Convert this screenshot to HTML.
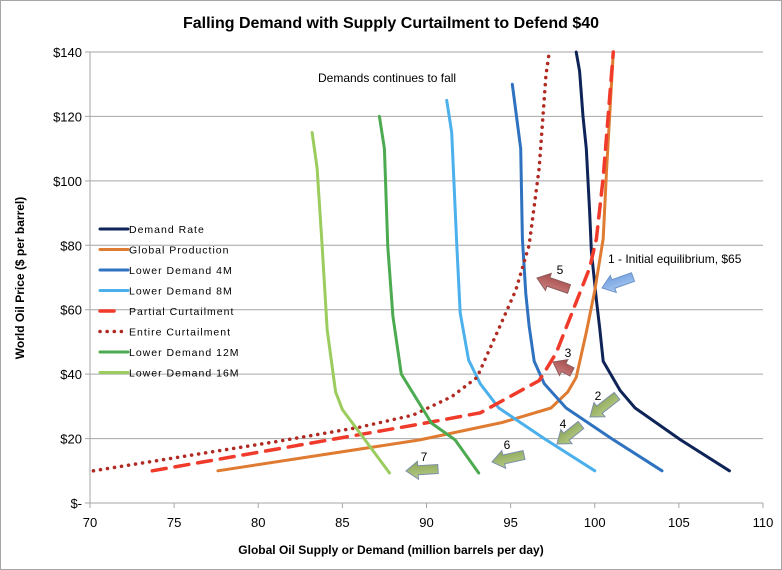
<!DOCTYPE html>
<html><head><meta charset="utf-8"><style>
body{margin:0;background:#fff}
svg{display:block;font-family:"Liberation Sans",sans-serif}
</style></head><body>
<svg id="chart" width="782" height="570">
<defs>
<linearGradient id="gBlue" x1="0" y1="0" x2="0" y2="1"><stop offset="0" stop-color="#a9c8f0"/><stop offset="1" stop-color="#6f9fe0"/></linearGradient>
<linearGradient id="gRed" x1="0" y1="0" x2="0" y2="1"><stop offset="0" stop-color="#c98080"/><stop offset="1" stop-color="#a84a4a"/></linearGradient>
<linearGradient id="gGreen" x1="0" y1="0" x2="0" y2="1"><stop offset="0" stop-color="#b8cc88"/><stop offset="1" stop-color="#8aa556"/></linearGradient>
</defs>
<rect x="0.5" y="0.5" width="781" height="569" fill="#fff" stroke="#a6a6a6"/>
<text x="391" y="28" text-anchor="middle" font-size="16" font-weight="bold">Falling Demand with Supply Curtailment to Defend $40</text>
<text x="391" y="554" text-anchor="middle" font-size="12" font-weight="bold">Global Oil Supply or Demand (million barrels per day)</text>
<text transform="translate(24,278) rotate(-90)" text-anchor="middle" font-size="12" font-weight="bold">World Oil Price  ($ per barrel)</text>
<g id="grid"></g><g id="series"></g><g id="ann"></g>
</svg>
<script>
const xTicks=[70,75,80,85,90,95,100,105,110];
const yTicks=[0,20,40,60,80,100,120,140];
const yTickLabels=["$-","$20","$40","$60","$80","$100","$120","$140"];
const demandX=[98.9,99.1,99.3,99.5,99.7,99.8,100.1,100.3,100.5,101.5,102.4,105.1,108.0];
const demandY=[140,134,120,110,90,78,63,54,44,35,29.5,19.6,10];
const prodX=[77.6,89.6,94.5,97.4,98.4,98.9,99.5,100.0,100.5,100.7,101.1];
const prodY=[10,19.6,25,29.5,34.5,39,53,66,82,103,140];
const ld4X=[95.1,95.6,95.7,95.9,96.1,96.4,97.0,98.3,101.0,104.0];
const ld4Y=[130,110,82,65,55,44,37,29.5,20,10];
const ld8X=[91.2,91.5,91.8,92.0,92.5,93.2,94.3,97.0,100.0];
const ld8Y=[125,115,80,59,44.4,37,29.5,20,10];
const partX=[73.7,89.6,93.2,96.7,97.7,99.7,100.1,100.5,101.1];
const partY=[10,24.5,28,38,46.5,73,82,101,140];
const entX=[70.2,81,86,89.2,91.5,93,94.2,95.3,96.1,96.7,97.1,97.3];
const entY=[10,19,23.5,27.3,33,39,53,66,80,104,133,140];
const ld12X=[87.2,87.5,87.7,88.0,88.5,90.3,91.7,93.1];
const ld12Y=[120,110,79.5,58,40,24.8,19.6,9.3];
const ld16X=[83.2,83.5,83.8,84.1,84.6,85.0,86.2,87.8];
const ld16Y=[115,104,79.5,53.7,34.5,29,20.6,9.3];
const seriesNames=["Demand Rate","Global Production","Lower Demand 4M","Lower Demand 8M","Partial Curtailment","Entire Curtailment","Lower Demand 12M","Lower Demand 16M"];

const X0=90,X1=763,Y0=503,Y1=52;
const sx=v=>X0+(v-70)/40*(X1-X0);
const sy=v=>Y0-v/140*(Y0-Y1);
const NS="http://www.w3.org/2000/svg";
function mk(t,a,p){const e=document.createElementNS(NS,t);for(const k in a)e.setAttribute(k,a[k]);p.appendChild(e);return e;}
const grid=document.getElementById('grid'),ser=document.getElementById('series'),ann=document.getElementById('ann');
yTicks.forEach((v,i)=>{
 const l=mk('line',{x1:X0-5,x2:X1,y1:sy(v),y2:sy(v),stroke:'#a6a6a6','stroke-width':1},grid);
 
 
 const t=mk('text',{x:X0-8,y:sy(v)+5,'text-anchor':'end','font-size':13},grid);t.textContent=yTickLabels[i];
 
 
});
const ax=mk('line',{x1:X0,x2:X0,y1:Y1,y2:Y0+5,stroke:'#a6a6a6'},grid);


xTicks.forEach(v=>{
 const l=mk('line',{x1:sx(v),x2:sx(v),y1:Y0,y2:Y0+5,stroke:'#a6a6a6'},grid);
 
 
 const t=mk('text',{x:sx(v),y:Y0+24,'text-anchor':'middle','font-size':13},grid);t.textContent=v;
 
 
});
const styles=[
 {xs:demandX,ys:demandY,c:'#0e2357',d:'',w:3,n:'demand-rate-line'},
 {xs:prodX,ys:prodY,c:'#e07b32',d:'',w:3,n:'global-production-line'},
 {xs:ld4X,ys:ld4Y,c:'#2f72c0',d:'',w:3,n:'lower-demand-4m-line'},
 {xs:ld8X,ys:ld8Y,c:'#4bb0ec',d:'',w:3,n:'lower-demand-8m-line'},
 {xs:partX,ys:partY,c:'#f03a2a',d:'14 9',w:3.5,n:'partial-curtailment-line'},
 {xs:entX,ys:entY,c:'#b02a22',d:'0.1 7',w:3.5,n:'entire-curtailment-line'},
 {xs:ld12X,ys:ld12Y,c:'#4caa50',d:'',w:3,n:'lower-demand-12m-line'},
 {xs:ld16X,ys:ld16Y,c:'#9ccc5e',d:'',w:3,n:'lower-demand-16m-line'}];
styles.forEach((s,i)=>{
 const pts=s.xs.map((x,j)=>sx(x).toFixed(1)+','+sy(s.ys[j]).toFixed(1)).join(' ');
 const a={points:pts,fill:'none',stroke:s.c,'stroke-width':s.w,'stroke-linejoin':'round','stroke-linecap':'round'};
 if(s.d)a['stroke-dasharray']=s.d;
 const p=mk('polyline',a,ser);
 
 
 const ly=229+i*20.5;
 const la={x1:100,x2:128,y1:ly,y2:ly,stroke:s.c,'stroke-width':s.w,'stroke-linecap':'round'};
 if(s.d)la['stroke-dasharray']=s.d==='14 9'?'14 40':'0.1 7';
 const ll=mk('line',la,ser);
 
 
 const t=mk('text',{x:129,y:ly+4,'font-size':10.5,'letter-spacing':'1'},ser);t.textContent=seriesNames[i];
 
 
});
function arrow(x1,y1,x2,y2,fill,stroke,name){
 const dx=x2-x1,dy=y2-y1,L=Math.hypot(dx,dy),a=Math.atan2(dy,dx)*180/Math.PI;
 const h=12,sw=4.5,hw=9;
 const d=`M0,${-sw} L${L-h},${-sw} L${L-h},${-hw} L${L},0 L${L-h},${hw} L${L-h},${sw} L0,${sw} Z`;
 const p=mk('path',{d:d,fill:fill,stroke:stroke,'stroke-width':1,transform:`translate(${x1},${y1}) rotate(${a})`},ann);
 
 
}
arrow(633,277,602,288,'url(#gBlue)','#6d94c8','arrow-1');
arrow(569,289,537,278,'url(#gRed)','#8f5a5a','arrow-5');
arrow(572,372,553,362,'url(#gRed)','#8f5a5a','arrow-3');
arrow(617,396,590,417,'url(#gGreen)','#7d8fa8','arrow-2');
arrow(581,425,557,444,'url(#gGreen)','#7d8fa8','arrow-4');
arrow(524,455,492,462,'url(#gGreen)','#7d8fa8','arrow-6');
arrow(438,469,406,471,'url(#gGreen)','#7d8fa8','arrow-7');
[["5",560,274],["3",568,357],["2",598,400],["4",563,428],["6",507,449],["7",424,461]].forEach(r=>{
 const t=mk('text',{x:r[1],y:r[2],'text-anchor':'middle','font-size':12},ann);t.textContent=r[0];
 
 
});
const t1=mk('text',{x:608,y:263,'font-size':12},ann);t1.textContent='1 - Initial equilibrium, $65';


const t2=mk('text',{x:318,y:82,'font-size':12},ann);t2.textContent='Demands continues to fall';


</script>
</body></html>
